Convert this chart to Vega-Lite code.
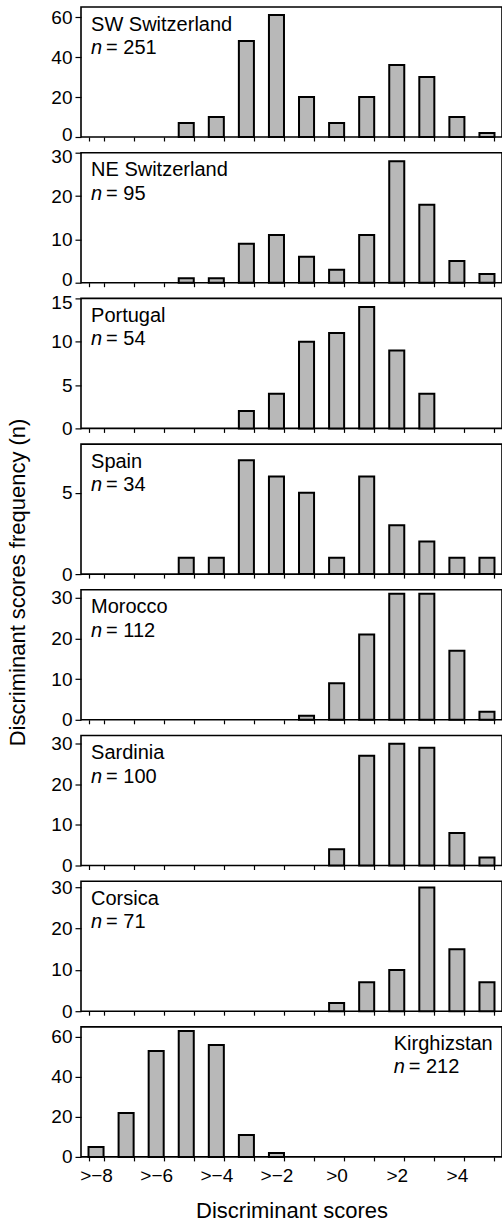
{
  "$schema": "https://vega.github.io/schema/vega-lite/v6.json",
  "padding": {"left": 7, "top": 6, "right": 0, "bottom": 0},
  "title": {"text": "Discriminant scores frequency (n)", "orient": "left", "anchor": "middle", "fontSize": 22, "fontWeight": "normal", "font": "Liberation Sans", "color": "black", "offset": 20, "dx": 32},
  "config": {
    "font": "Liberation Sans",
    "view": {"stroke": "black", "strokeWidth": 1.6},
    "axis": {"labelFont": "Liberation Sans", "labelFontSize": 19, "labelColor": "black", "tickColor": "black", "tickWidth": 1.2, "domain": false, "grid": false, "titleFont": "Liberation Sans", "titleFontSize": 22, "titleFontWeight": "normal", "titleColor": "black"},
    "axisY": {"tickSize": 6, "labelPadding": 3},
    "axisX": {"tickSize": 4, "tickBand": "extent", "labelPadding": 6, "labelAngle": 0, "titlePadding": 15},
    "bar": {"fill": "#b8b8b8", "stroke": "black", "strokeWidth": 2},
    "text": {"font": "Liberation Sans", "fontSize": 20, "align": "left", "baseline": "middle", "color": "black"}
  },
  "datasets": {
    "counts": [
      {"region": "SW Switzerland", "score": -5, "count": 7},
      {"region": "SW Switzerland", "score": -4, "count": 10},
      {"region": "SW Switzerland", "score": -3, "count": 48},
      {"region": "SW Switzerland", "score": -2, "count": 61},
      {"region": "SW Switzerland", "score": -1, "count": 20},
      {"region": "SW Switzerland", "score": 0, "count": 7},
      {"region": "SW Switzerland", "score": 1, "count": 20},
      {"region": "SW Switzerland", "score": 2, "count": 36},
      {"region": "SW Switzerland", "score": 3, "count": 30},
      {"region": "SW Switzerland", "score": 4, "count": 10},
      {"region": "SW Switzerland", "score": 5, "count": 2},
      {"region": "NE Switzerland", "score": -5, "count": 1},
      {"region": "NE Switzerland", "score": -4, "count": 1},
      {"region": "NE Switzerland", "score": -3, "count": 9},
      {"region": "NE Switzerland", "score": -2, "count": 11},
      {"region": "NE Switzerland", "score": -1, "count": 6},
      {"region": "NE Switzerland", "score": 0, "count": 3},
      {"region": "NE Switzerland", "score": 1, "count": 11},
      {"region": "NE Switzerland", "score": 2, "count": 28},
      {"region": "NE Switzerland", "score": 3, "count": 18},
      {"region": "NE Switzerland", "score": 4, "count": 5},
      {"region": "NE Switzerland", "score": 5, "count": 2},
      {"region": "Portugal", "score": -3, "count": 2},
      {"region": "Portugal", "score": -2, "count": 4},
      {"region": "Portugal", "score": -1, "count": 10},
      {"region": "Portugal", "score": 0, "count": 11},
      {"region": "Portugal", "score": 1, "count": 14},
      {"region": "Portugal", "score": 2, "count": 9},
      {"region": "Portugal", "score": 3, "count": 4},
      {"region": "Spain", "score": -5, "count": 1},
      {"region": "Spain", "score": -4, "count": 1},
      {"region": "Spain", "score": -3, "count": 7},
      {"region": "Spain", "score": -2, "count": 6},
      {"region": "Spain", "score": -1, "count": 5},
      {"region": "Spain", "score": 0, "count": 1},
      {"region": "Spain", "score": 1, "count": 6},
      {"region": "Spain", "score": 2, "count": 3},
      {"region": "Spain", "score": 3, "count": 2},
      {"region": "Spain", "score": 4, "count": 1},
      {"region": "Spain", "score": 5, "count": 1},
      {"region": "Morocco", "score": -1, "count": 1},
      {"region": "Morocco", "score": 0, "count": 9},
      {"region": "Morocco", "score": 1, "count": 21},
      {"region": "Morocco", "score": 2, "count": 31},
      {"region": "Morocco", "score": 3, "count": 31},
      {"region": "Morocco", "score": 4, "count": 17},
      {"region": "Morocco", "score": 5, "count": 2},
      {"region": "Sardinia", "score": 0, "count": 4},
      {"region": "Sardinia", "score": 1, "count": 27},
      {"region": "Sardinia", "score": 2, "count": 30},
      {"region": "Sardinia", "score": 3, "count": 29},
      {"region": "Sardinia", "score": 4, "count": 8},
      {"region": "Sardinia", "score": 5, "count": 2},
      {"region": "Corsica", "score": 0, "count": 2},
      {"region": "Corsica", "score": 1, "count": 7},
      {"region": "Corsica", "score": 2, "count": 10},
      {"region": "Corsica", "score": 3, "count": 30},
      {"region": "Corsica", "score": 4, "count": 15},
      {"region": "Corsica", "score": 5, "count": 7},
      {"region": "Kirghizstan", "score": -8, "count": 5},
      {"region": "Kirghizstan", "score": -7, "count": 22},
      {"region": "Kirghizstan", "score": -6, "count": 53},
      {"region": "Kirghizstan", "score": -5, "count": 63},
      {"region": "Kirghizstan", "score": -4, "count": 56},
      {"region": "Kirghizstan", "score": -3, "count": 11},
      {"region": "Kirghizstan", "score": -2, "count": 2}
    ]
  },
  "spacing": 15.7,
  "bounds": "flush",
  "vconcat": [
    {
      "width": 421, "height": 130,
      "layer": [
        {"data": {"name": "counts"}, "transform": [{"filter": "datum.region == 'SW Switzerland'"}], "mark": "bar",
          "encoding": {
            "x": {"field": "score", "type": "ordinal", "scale": {"domain": [-8,-7,-6,-5,-4,-3,-2,-1,0,1,2,3,4,5], "paddingInner": 0.5, "paddingOuter": 0.25}, "axis": {"labels": false, "title": null}},
            "y": {"field": "count", "type": "quantitative", "scale": {"domain": [0, 65], "nice": false}, "axis": {"values": [0, 20, 40, 60], "title": null, "labelOffset": {"condition": {"test": "datum.value == 0", "value": -3}, "value": 0}}}}},
        {"data": {"values": [{}]}, "mark": {"type": "text", "text": "SW Switzerland", "dx": -5}, "encoding": {"x": {"datum": -8, "type": "ordinal"}, "y": {"datum": 56.2, "type": "quantitative"}}},
        {"data": {"values": [{}]}, "mark": {"type": "text", "text": "n", "fontStyle": "italic", "dx": -5}, "encoding": {"x": {"datum": -8, "type": "ordinal"}, "y": {"datum": 44.5, "type": "quantitative"}}},
        {"data": {"values": [{}]}, "mark": {"type": "text", "text": "= 251", "dx": 10}, "encoding": {"x": {"datum": -8, "type": "ordinal"}, "y": {"datum": 44.5, "type": "quantitative"}}}
      ]
    },
    {
      "width": 421, "height": 130,
      "layer": [
        {"data": {"name": "counts"}, "transform": [{"filter": "datum.region == 'NE Switzerland'"}], "mark": "bar",
          "encoding": {
            "x": {"field": "score", "type": "ordinal", "scale": {"domain": [-8,-7,-6,-5,-4,-3,-2,-1,0,1,2,3,4,5], "paddingInner": 0.5, "paddingOuter": 0.25}, "axis": {"labels": false, "title": null}},
            "y": {"field": "count", "type": "quantitative", "scale": {"domain": [0, 30], "nice": false}, "axis": {"values": [0, 10, 20, 30], "title": null, "labelOffset": {"condition": [{"test": "datum.value == 0", "value": -3}, {"test": "datum.value == 30", "value": 4}], "value": 0}}}}},
        {"data": {"values": [{}]}, "mark": {"type": "text", "text": "NE Switzerland", "dx": -5}, "encoding": {"x": {"datum": -8, "type": "ordinal"}, "y": {"datum": 25.95, "type": "quantitative"}}},
        {"data": {"values": [{}]}, "mark": {"type": "text", "text": "n", "fontStyle": "italic", "dx": -5}, "encoding": {"x": {"datum": -8, "type": "ordinal"}, "y": {"datum": 20.55, "type": "quantitative"}}},
        {"data": {"values": [{}]}, "mark": {"type": "text", "text": "= 95", "dx": 10}, "encoding": {"x": {"datum": -8, "type": "ordinal"}, "y": {"datum": 20.55, "type": "quantitative"}}}
      ]
    },
    {
      "width": 421, "height": 130,
      "layer": [
        {"data": {"name": "counts"}, "transform": [{"filter": "datum.region == 'Portugal'"}], "mark": "bar",
          "encoding": {
            "x": {"field": "score", "type": "ordinal", "scale": {"domain": [-8,-7,-6,-5,-4,-3,-2,-1,0,1,2,3,4,5], "paddingInner": 0.5, "paddingOuter": 0.25}, "axis": {"labels": false, "title": null}},
            "y": {"field": "count", "type": "quantitative", "scale": {"domain": [0, 15], "nice": false}, "axis": {"values": [0, 5, 10, 15], "title": null, "labelOffset": {"condition": {"test": "datum.value == 15", "value": 4}, "value": 0}}}}},
        {"data": {"values": [{}]}, "mark": {"type": "text", "text": "Portugal", "dx": -5}, "encoding": {"x": {"datum": -8, "type": "ordinal"}, "y": {"datum": 12.98, "type": "quantitative"}}},
        {"data": {"values": [{}]}, "mark": {"type": "text", "text": "n", "fontStyle": "italic", "dx": -5}, "encoding": {"x": {"datum": -8, "type": "ordinal"}, "y": {"datum": 10.28, "type": "quantitative"}}},
        {"data": {"values": [{}]}, "mark": {"type": "text", "text": "= 54", "dx": 10}, "encoding": {"x": {"datum": -8, "type": "ordinal"}, "y": {"datum": 10.28, "type": "quantitative"}}}
      ]
    },
    {
      "width": 421, "height": 130,
      "layer": [
        {"data": {"name": "counts"}, "transform": [{"filter": "datum.region == 'Spain'"}], "mark": "bar",
          "encoding": {
            "x": {"field": "score", "type": "ordinal", "scale": {"domain": [-8,-7,-6,-5,-4,-3,-2,-1,0,1,2,3,4,5], "paddingInner": 0.5, "paddingOuter": 0.25}, "axis": {"labels": false, "title": null}},
            "y": {"field": "count", "type": "quantitative", "scale": {"domain": [0, 8], "nice": false}, "axis": {"values": [0, 5], "title": null}}}},
        {"data": {"values": [{}]}, "mark": {"type": "text", "text": "Spain", "dx": -5}, "encoding": {"x": {"datum": -8, "type": "ordinal"}, "y": {"datum": 6.92, "type": "quantitative"}}},
        {"data": {"values": [{}]}, "mark": {"type": "text", "text": "n", "fontStyle": "italic", "dx": -5}, "encoding": {"x": {"datum": -8, "type": "ordinal"}, "y": {"datum": 5.48, "type": "quantitative"}}},
        {"data": {"values": [{}]}, "mark": {"type": "text", "text": "= 34", "dx": 10}, "encoding": {"x": {"datum": -8, "type": "ordinal"}, "y": {"datum": 5.48, "type": "quantitative"}}}
      ]
    },
    {
      "width": 421, "height": 130,
      "layer": [
        {"data": {"name": "counts"}, "transform": [{"filter": "datum.region == 'Morocco'"}], "mark": "bar",
          "encoding": {
            "x": {"field": "score", "type": "ordinal", "scale": {"domain": [-8,-7,-6,-5,-4,-3,-2,-1,0,1,2,3,4,5], "paddingInner": 0.5, "paddingOuter": 0.25}, "axis": {"labels": false, "title": null}},
            "y": {"field": "count", "type": "quantitative", "scale": {"domain": [0, 32], "nice": false}, "axis": {"values": [0, 10, 20, 30], "title": null}}}},
        {"data": {"values": [{}]}, "mark": {"type": "text", "text": "Morocco", "dx": -5}, "encoding": {"x": {"datum": -8, "type": "ordinal"}, "y": {"datum": 27.7, "type": "quantitative"}}},
        {"data": {"values": [{}]}, "mark": {"type": "text", "text": "n", "fontStyle": "italic", "dx": -5}, "encoding": {"x": {"datum": -8, "type": "ordinal"}, "y": {"datum": 21.9, "type": "quantitative"}}},
        {"data": {"values": [{}]}, "mark": {"type": "text", "text": "= 112", "dx": 10}, "encoding": {"x": {"datum": -8, "type": "ordinal"}, "y": {"datum": 21.9, "type": "quantitative"}}}
      ]
    },
    {
      "width": 421, "height": 130,
      "layer": [
        {"data": {"name": "counts"}, "transform": [{"filter": "datum.region == 'Sardinia'"}], "mark": "bar",
          "encoding": {
            "x": {"field": "score", "type": "ordinal", "scale": {"domain": [-8,-7,-6,-5,-4,-3,-2,-1,0,1,2,3,4,5], "paddingInner": 0.5, "paddingOuter": 0.25}, "axis": {"labels": false, "title": null}},
            "y": {"field": "count", "type": "quantitative", "scale": {"domain": [0, 32], "nice": false}, "axis": {"values": [0, 10, 20, 30], "title": null}}}},
        {"data": {"values": [{}]}, "mark": {"type": "text", "text": "Sardinia", "dx": -5}, "encoding": {"x": {"datum": -8, "type": "ordinal"}, "y": {"datum": 27.7, "type": "quantitative"}}},
        {"data": {"values": [{}]}, "mark": {"type": "text", "text": "n", "fontStyle": "italic", "dx": -5}, "encoding": {"x": {"datum": -8, "type": "ordinal"}, "y": {"datum": 21.9, "type": "quantitative"}}},
        {"data": {"values": [{}]}, "mark": {"type": "text", "text": "= 100", "dx": 10}, "encoding": {"x": {"datum": -8, "type": "ordinal"}, "y": {"datum": 21.9, "type": "quantitative"}}}
      ]
    },
    {
      "width": 421, "height": 130,
      "layer": [
        {"data": {"name": "counts"}, "transform": [{"filter": "datum.region == 'Corsica'"}], "mark": "bar",
          "encoding": {
            "x": {"field": "score", "type": "ordinal", "scale": {"domain": [-8,-7,-6,-5,-4,-3,-2,-1,0,1,2,3,4,5], "paddingInner": 0.5, "paddingOuter": 0.25}, "axis": {"labels": false, "title": null}},
            "y": {"field": "count", "type": "quantitative", "scale": {"domain": [0, 31.5], "nice": false}, "axis": {"values": [0, 10, 20, 30], "title": null}}}},
        {"data": {"values": [{}]}, "mark": {"type": "text", "text": "Corsica", "dx": -5}, "encoding": {"x": {"datum": -8, "type": "ordinal"}, "y": {"datum": 27.25, "type": "quantitative"}}},
        {"data": {"values": [{}]}, "mark": {"type": "text", "text": "n", "fontStyle": "italic", "dx": -5}, "encoding": {"x": {"datum": -8, "type": "ordinal"}, "y": {"datum": 21.6, "type": "quantitative"}}},
        {"data": {"values": [{}]}, "mark": {"type": "text", "text": "= 71", "dx": 10}, "encoding": {"x": {"datum": -8, "type": "ordinal"}, "y": {"datum": 21.6, "type": "quantitative"}}}
      ]
    },
    {
      "width": 421, "height": 130,
      "layer": [
        {"data": {"name": "counts"}, "transform": [{"filter": "datum.region == 'Kirghizstan'"}], "mark": "bar",
          "encoding": {
            "x": {"field": "score", "type": "ordinal", "scale": {"domain": [-8,-7,-6,-5,-4,-3,-2,-1,0,1,2,3,4,5], "paddingInner": 0.5, "paddingOuter": 0.25}, "axis": {"title": "Discriminant scores", "labelExpr": "datum.value % 2 == 0 ? (datum.value < 0 ? '>−' + abs(datum.value) : '>' + datum.value) : ''"}},
            "y": {"field": "count", "type": "quantitative", "scale": {"domain": [0, 65], "nice": false}, "axis": {"values": [0, 20, 40, 60], "title": null}}}},
        {"data": {"values": [{}]}, "mark": {"type": "text", "text": "Kirghizstan", "dx": -3}, "encoding": {"x": {"datum": 2, "type": "ordinal"}, "y": {"datum": 56.5, "type": "quantitative"}}},
        {"data": {"values": [{}]}, "mark": {"type": "text", "text": "n", "fontStyle": "italic", "dx": -3}, "encoding": {"x": {"datum": 2, "type": "ordinal"}, "y": {"datum": 45, "type": "quantitative"}}},
        {"data": {"values": [{}]}, "mark": {"type": "text", "text": "= 212", "dx": 12}, "encoding": {"x": {"datum": 2, "type": "ordinal"}, "y": {"datum": 45, "type": "quantitative"}}}
      ]
    }
  ]
}
